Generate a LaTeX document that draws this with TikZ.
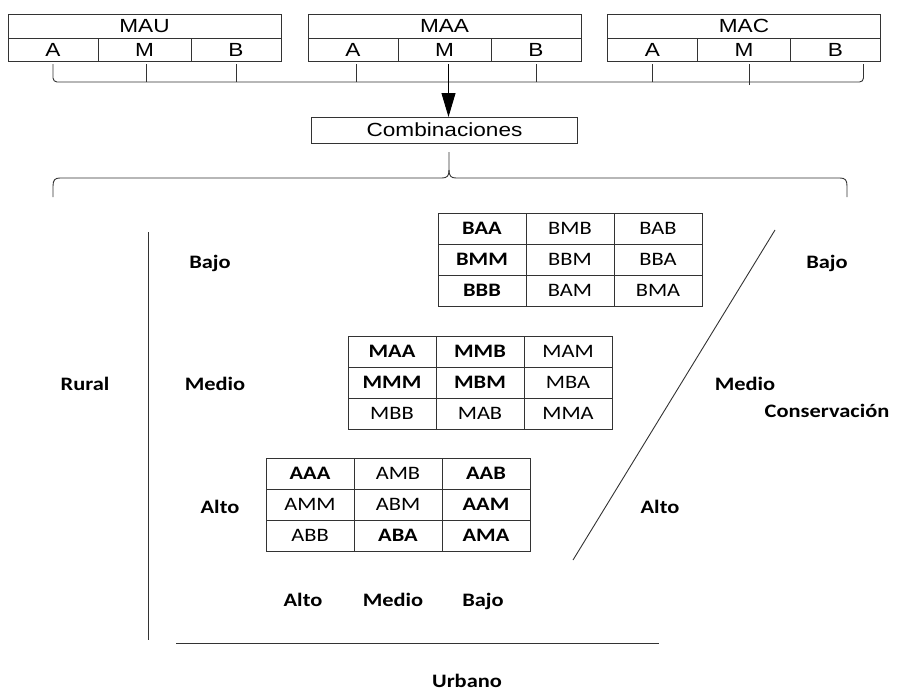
\documentclass[tikz,border=0pt]{standalone}
\usepackage{fontspec}
\setmainfont{Carlito}[FakeStretch=1.18]
\newfontfamily\arialfont{Liberation Sans}[FakeStretch=1.19]
\usetikzlibrary{arrows.meta,positioning,calc}

\begin{document}
\begin{tikzpicture}[
  x=1pt,y=-1pt,
  line width=0.9pt,
  draw=black!80,
  hdr/.style={draw=black!80,rectangle,outer sep=0pt,inner sep=0pt,minimum height=24pt,font=\arialfont\fontsize{19}{21}\selectfont},
  sub/.style={hdr,minimum height=23pt,minimum width=90pt},
  cell/.style={draw=black!80,rectangle,outer sep=0pt,inner sep=0pt,minimum width=88pt,minimum height=31pt,text height=12pt,text depth=0pt,font=\fontsize{19}{22}\selectfont},
  cellb/.style={cell,font=\bfseries\fontsize{19}{22}\selectfont},
  lbl/.style={anchor=base,inner sep=0pt,font=\bfseries\fontsize{19}{22}\selectfont},
  >=Triangle
]
  \useasboundingbox (0,0) rectangle (901,693);

  % Criteria boxes
  \node[sub] (mauA) at (53,49.5) {A};
  \node[sub,right=0pt of mauA,minimum width=93pt] (mauM) {M};
  \node[sub,right=0pt of mauM] (mauB) {B};
  \node[hdr,above=0pt of mauM,minimum width=273pt] (mau) {MAU};

  \node[sub] (maaA) at (353,49.5) {A};
  \node[sub,right=0pt of maaA,minimum width=93pt] (maaM) {M};
  \node[sub,right=0pt of maaM] (maaB) {B};
  \node[hdr,above=0pt of maaM,minimum width=273pt] (maa) {MAA};

  \node[sub] (macA) at (652.5,49.5) {A};
  \node[sub,right=0pt of macA,minimum width=93pt] (macM) {M};
  \node[sub,right=0pt of macM] (macB) {B};
  \node[hdr,above=0pt of macM,minimum width=273pt] (mac) {MAC};

  % Combinations box
  \node[hdr,minimum width=266pt,minimum height=26pt] (comb) at (444.5,130) {Combinaciones};

  % Bus lines
  \draw[rounded corners=4pt] ([yshift=-3pt]mauA.south) |- ([xshift=28pt,yshift=-21pt]macB.south)
    -- ([xshift=28pt,yshift=-3pt]macB.south);
  \draw ([xshift=2pt,yshift=-3pt]mauM.south) -- ++(0,18);
  \draw ([yshift=-3pt]mauB.south) -- ++(0,18);
  \draw ([xshift=3pt,yshift=-3pt]maaA.south) -- ++(0,18);
  \draw ([yshift=-3pt]maaB.south) -- ++(0,18);
  \draw ([yshift=-3pt]macA.south) -- ++(0,18);
  \draw ([xshift=5pt,yshift=-3pt]macM.south) -- ++(0,21);
  \draw[black,-{Triangle[length=24pt,width=14pt]}] ([xshift=4pt,yshift=-3pt]maaM.south) -- ([xshift=4pt]maaM.south |- comb.north);

  % Brace
  \draw (449,152) -- (449,170) .. controls (449,176) and (447,178) .. (442,178) -- (60,178)
    .. controls (55,178) and (53,180) .. (53,186) -- (53,197);
  \draw (449,170) .. controls (449,176) and (451,178) .. (456,178) -- (840,178)
    .. controls (845,178) and (847,180) .. (847,186) -- (847,197);

  % Table Bajo
  \node[cellb] (baa) at (482,228.5) {BAA};
  \node[cell,right=0pt of baa] (bmb) {BMB};
  \node[cell,right=0pt of bmb] (bab) {BAB};
  \node[cellb,below=0pt of baa] (bmm) {BMM};
  \node[cell,right=0pt of bmm] (bbm) {BBM};
  \node[cell,right=0pt of bbm] (bba) {BBA};
  \node[cellb,below=0pt of bmm] (bbb) {BBB};
  \node[cell,right=0pt of bbb] (bam) {BAM};
  \node[cell,right=0pt of bam] (bma) {BMA};

  % Table Medio
  \begin{scope}[every node/.append style={minimum width=90pt,minimum height=30.5pt}]
  \node[cellb] (maa2) at (392,351.5) {MAA};
  \node[cellb,right=0pt of maa2] (mmb) {MMB};
  \node[cell,right=0pt of mmb] (mam) {MAM};
  \node[cellb,below=0pt of maa2] (mmm) {MMM};
  \node[cellb,right=0pt of mmm] (mbm) {MBM};
  \node[cell,right=0pt of mbm] (mba) {MBA};
  \node[cell,below=0pt of mmm] (mbb) {MBB};
  \node[cell,right=0pt of mbb] (mab) {MAB};
  \node[cell,right=0pt of mab] (mma) {MMA};
  \end{scope}

  % Table Alto
  \node[cellb] (aaa) at (310,473.5) {AAA};
  \node[cell,right=0pt of aaa] (amb) {AMB};
  \node[cellb,right=0pt of amb] (aab) {AAB};
  \node[cell,below=0pt of aaa] (amm) {AMM};
  \node[cell,right=0pt of amm] (abm) {ABM};
  \node[cellb,right=0pt of abm] (aam) {AAM};
  \node[cell,below=0pt of amm] (abb) {ABB};
  \node[cellb,right=0pt of abb] (aba) {ABA};
  \node[cellb,right=0pt of aba] (ama) {AMA};

  % Axes
  \draw (148,232) -- (148,640);
  \draw (176,643) -- (659,643);
  \draw (775,230) -- (573,560);

  % Labels
  \node[lbl] (rural) at (85,390) {Rural};
  \node[lbl] (rbajo) at (210,268) {Bajo};
  \node[lbl] (rmedio) at (215,390) {Medio};
  \node[lbl] (ralto) at (220,513) {Alto};

  \node[lbl] (cbajo) at (827,268) {Bajo};
  \node[lbl] (cmedio) at (745,390) {Medio};
  \node[lbl] (cons) at (827,417) {Conservación};
  \node[lbl] (calto) at (660,513) {Alto};

  \node[lbl] (ualto) at (303,606) {Alto};
  \node[lbl] (umedio) at (393,606) {Medio};
  \node[lbl] (ubajo) at (483,606) {Bajo};
  \node[lbl] (urbano) at (467,687) {Urbano};
\end{tikzpicture}
\end{document}
